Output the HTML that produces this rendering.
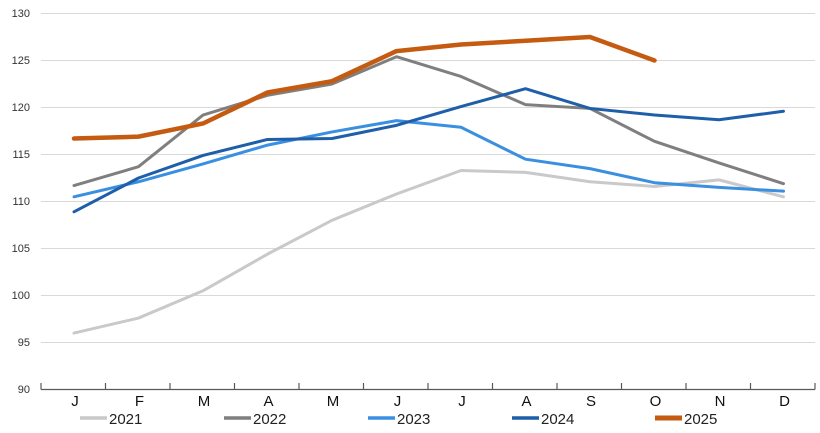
<!DOCTYPE html><html><head><style>body{margin:0;background:#fff}svg{display:block}text{font-family:"Liberation Sans",sans-serif}</style></head><body>
<svg width="820" height="433" xmlns="http://www.w3.org/2000/svg">
<g stroke="#d9d9d9" stroke-width="1">
<line x1="41" x2="815" y1="13.5" y2="13.5"/><line x1="41" x2="815" y1="60.5" y2="60.5"/><line x1="41" x2="815" y1="107.5" y2="107.5"/><line x1="41" x2="815" y1="154.5" y2="154.5"/><line x1="41" x2="815" y1="201.5" y2="201.5"/><line x1="41" x2="815" y1="248.5" y2="248.5"/><line x1="41" x2="815" y1="295.5" y2="295.5"/><line x1="41" x2="815" y1="342.5" y2="342.5"/>
</g>
<g font-size="11" fill="#333" text-anchor="end">
<text x="30" y="17">130</text><text x="30" y="64">125</text><text x="30" y="111">120</text><text x="30" y="158">115</text><text x="30" y="205">110</text><text x="30" y="252">105</text><text x="30" y="299">100</text><text x="30" y="346">95</text><text x="30" y="393">90</text>
</g>
<line x1="41" x2="815" y1="389.5" y2="389.5" stroke="#595959" stroke-width="1.2"/>
<g stroke="#595959" stroke-width="1.2" id="t"></g>
<g font-size="15" fill="#111" text-anchor="middle" id="m"></g>
<g fill="none" stroke-linejoin="round" stroke-linecap="round" id="s"></g>
<g font-size="15" fill="#222">
<line x1="80" x2="107" y1="418" y2="418" stroke="#c9c9c9" stroke-width="3.5"/><text x="109" y="424">2021</text>
<line x1="224" x2="251" y1="418" y2="418" stroke="#7f7f7f" stroke-width="3.5"/><text x="253" y="424">2022</text>
<line x1="368" x2="395" y1="418" y2="418" stroke="#3a8fe0" stroke-width="3.5"/><text x="397" y="424">2023</text>
<line x1="512" x2="539" y1="418" y2="418" stroke="#1f5ea8" stroke-width="3.5"/><text x="541" y="424">2024</text>
<line x1="655" x2="682" y1="418" y2="418" stroke="#c55a11" stroke-width="5"/><text x="684" y="424">2025</text>
</g>
<script>
var ns="http://www.w3.org/2000/svg",t=document.getElementById('t'),m=document.getElementById('m'),s=document.getElementById('s');
var M="JFMAMJJASOND";
for(var i=0;i<=12;i++){var l=document.createElementNS(ns,'line');var x=41+64.5*i;l.setAttribute('x1',x);l.setAttribute('x2',x);l.setAttribute('y1',383);l.setAttribute('y2',389.5);t.appendChild(l);}
for(var i=0;i<12;i++){var e=document.createElementNS(ns,'text');e.setAttribute('x',75+64.5*i);e.setAttribute('y',406);e.textContent=M[i];m.appendChild(e);}
function Y(v){return 389.5-(v-90)*9.4}
var D=[["#c9c9c9",3,[96,97.6,100.5,104.4,108,110.8,113.3,113.1,112.1,111.6,112.3,110.5]],
["#7f7f7f",3,[111.7,113.7,119.2,121.3,122.5,125.4,123.3,120.3,119.9,116.4,114.1,111.9]],
["#3a8fe0",3,[110.5,112.1,114,116,117.4,118.6,117.9,114.5,113.5,112,111.5,111.1]],
["#1f5ea8",3,[108.9,112.5,114.9,116.6,116.7,118.1,120.1,122,119.9,119.2,118.7,119.6]],
["#c55a11",4.5,[116.7,116.9,118.3,121.6,122.8,126,126.7,127.1,127.5,125]]];
D.forEach(function(d){var p=document.createElementNS(ns,'polyline');p.setAttribute('points',d[2].map(function(v,i){return (74+64.5*i)+','+Y(v)}).join(' '));p.setAttribute('stroke',d[0]);p.setAttribute('stroke-width',d[1]);s.appendChild(p);});
</script>
</svg></body></html>
